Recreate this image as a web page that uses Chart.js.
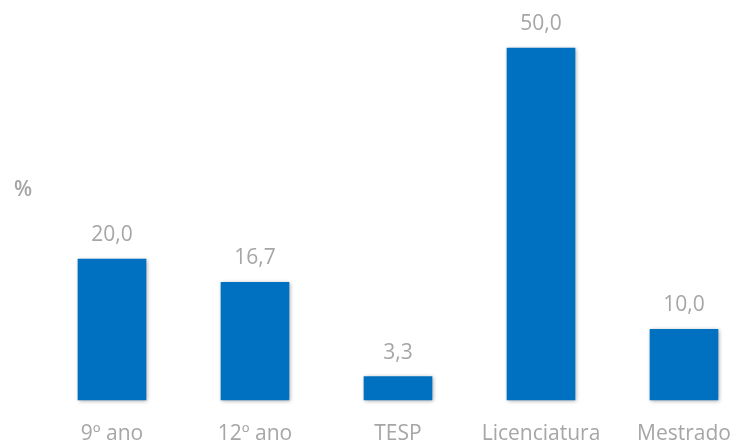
<!DOCTYPE html>
<html>
<head>
<meta charset="utf-8">
<script src="https://cdn.jsdelivr.net/npm/chart.js@4.4.1/dist/chart.umd.js"></script>
<style>
  html, body { margin: 0; padding: 0; background: #fff; }
  #wrap { width: 732px; height: 441px; }
</style>
</head>
<body>
<div id="wrap"><canvas id="chart"></canvas></div>
<script>
const categorias = ['9º ano', '12º ano', 'TESP', 'Licenciatura', 'Mestrado'];
const valores = [20.0, 16.7, 3.3, 50.0, 10.0];
const unidade = '%';

const fmt = v => v.toFixed(1).replace('.', ',');
const cinza = '#a6a6a6';
const fonte = "'Open Sans', sans-serif";

const sombra = {
  id: 'sombra',
  beforeDatasetDraw(chart) {
    const ctx = chart.ctx;
    ctx.save();
    ctx.shadowColor = 'rgba(0,0,0,0.35)';
    ctx.shadowBlur = 4;
    ctx.shadowOffsetX = 1;
    ctx.shadowOffsetY = 1;
  },
  afterDatasetDraw(chart) {
    chart.ctx.restore();
  }
};

const rotulos = {
  id: 'rotulos',
  afterDatasetsDraw(chart) {
    const ctx = chart.ctx;
    const meta = chart.getDatasetMeta(0);
    ctx.save();
    ctx.fillStyle = cinza;
    ctx.font = '21px ' + fonte;
    ctx.textAlign = 'center';
    ctx.textBaseline = 'middle';
    meta.data.forEach((bar, i) => {
      ctx.fillText(fmt(valores[i]), bar.x, bar.y - 24);
    });
    ctx.font = '600 21px ' + fonte;
    ctx.fillText(unidade, 23, 190);
    ctx.restore();
  }
};

new Chart(document.getElementById('chart'), {
  type: 'bar',
  data: {
    labels: categorias,
    datasets: [{
      data: valores,
      backgroundColor: '#0070c0',
      barThickness: 68,
      clip: false
    }]
  },
  options: {
    responsive: true,
    maintainAspectRatio: false,
    animation: false,
    layout: { padding: { left: 112, right: 48, top: 48, bottom: -20 } },
    plugins: { legend: { display: false }, tooltip: { enabled: false } },
    scales: {
      x: {
        offset: false,
        grid: { display: false },
        border: { display: false },
        ticks: { color: cinza, font: { family: fonte, size: 21 }, padding: 14, maxRotation: 0 },
        afterFit(scale) {
          scale.paddingLeft = 0;
          scale.paddingRight = 0;
        }
      },
      y: { display: false, min: 0, max: 50 }
    }
  },
  plugins: [sombra, rotulos]
});
</script>
</body>
</html>
